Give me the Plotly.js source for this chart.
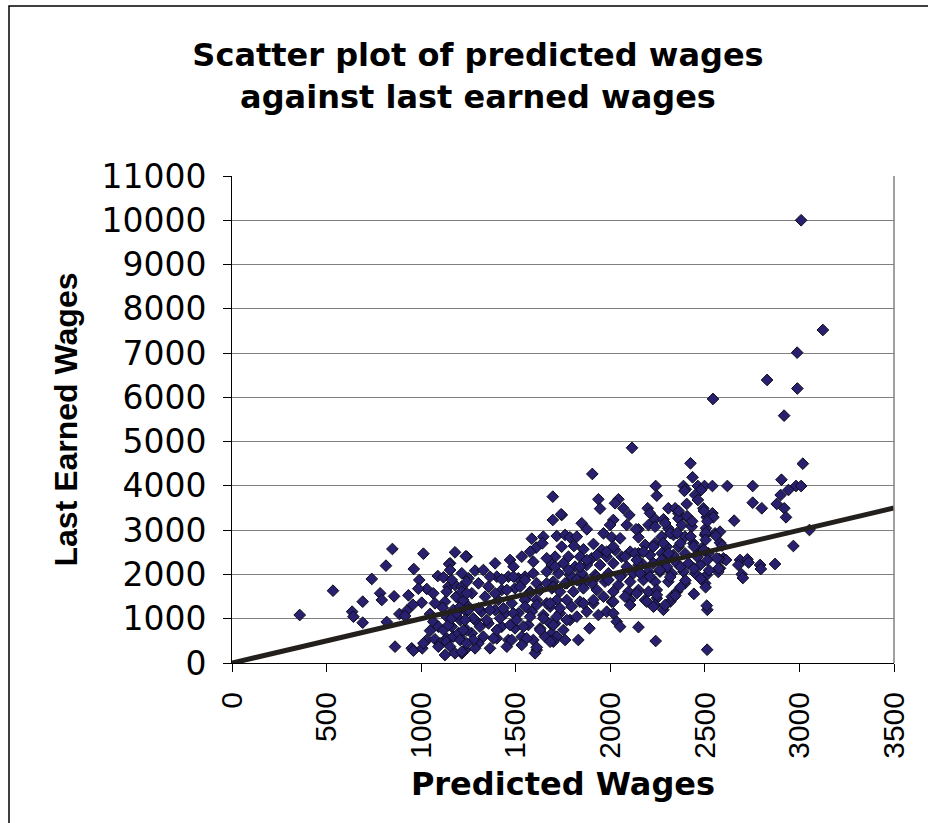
<!DOCTYPE html>
<html>
<head>
<meta charset="utf-8">
<script src="https://cdn.plot.ly/plotly-3.0.1.min.js"></script>
<style>
  html, body { margin: 0; padding: 0; background: #fff; }
  #chart { width: 928px; height: 823px; }
</style>
</head>
<body>
<div id="chart"></div>
<script>
// Predicted wages (x) and last earned wages (y)
const predictedWages = [
  3009,3124,2988,2989,2829,2919,2543,2115,2424,3018,2435,2905,1905,2240,2387,2399,2463,2498,2540,2480,
  2619,2753,2982,3009,2942,2246,2449,2463,2901,2753,2801,2880,2920,2929,2655,2580,2968,3053,2598,2612,
  2580,2686,2725,2677,2792,2871,2695,2513,2512,2281,2335,2317,2591,2575,2731,2796,2701,2571,
  2198,2210,2307,2343,2404,2360,2492,2540,2510,2545,2360,2413,2237,2281,2202,2237,2307,2378,2431,2506,
  2554,2580,2149,2149,2272,2334,2395,2501,2184,2237,2299,2360,2439,2484,2149,2210,2272,2334,2395,2457,
  2519,2167,2228,2290,2352,2413,2475,2572,2563,2140,2202,2263,2325,2387,2449,2510,2175,2237,2307,2395,
  2501,2149,2202,2246,2325,2352,2184,2246,2237,2290,2510,2149,2240,
  2392,2362,2406,2433,2495,2513,2290,2317,2353,2424,2504,2558,2281,2371,2442,2504,2495,2299,2460,2513,
  2299,2371,2442,2522,2317,2397,2477,2504,2371,2344,2442,
  1696,1937,1946,2043,2025,2069,2101,1743,1696,1849,1876,2016,1999,2087,2136,1717,1761,1787,1823,1743,
  1808,1911,1964,2008,2052,1858,1955,2025,2105,1708,1779,1840,1902,1981,2060,2131,1691,1752,1814,1876,
  1946,2016,2087,2149,1726,1787,1849,1920,1990,2060,2122,1699,1770,1840,1902,1972,2043,2105,1734,1805,
  1858,1929,2016,2096,1717,1770,1840,1911,1937,2008,2105,1682,1734,1787,2034,2052,1890,1708,1752,1691,
  1717,1761,1831,1699,
  1585,1646,1608,1641,1241,1391,1470,1488,1532,1593,1664,1285,1329,1400,1461,1514,1549,1611,1664,1250,
  1303,1356,1426,1496,1576,1629,1691,1268,1338,1408,1479,1549,1611,1664,1250,1320,1391,1444,1514,1585,
  1646,1285,1356,1426,1496,1567,1629,1682,1268,1329,1400,1461,1532,1593,1655,1303,1364,1453,1611,1602,
  1232,
  1740,1576,1153,1364,1426,1488,1549,1593,1664,1708,1779,1840,1876,1929,1981,2016,2078,2140,2175,2228,
  2272,2307,2158,2210,2263,2052,1990,1929,1876,1823,1761,1699,1576,1523,1453,1391,1206,1144,1126,1170,
  1241,1303,1364,1435,1488,1549,1611,1682,1734,1796,1858,1911,1964,2016,2078,2140,2193,2246,2228,1611,
  1215,1285,1532,1135,1206,1276,1382,1479,1558,1682,1162,1241,1311,1400,1470,1541,1629,1699,1135,1206,
  1276,1347,1417,1505,1576,1646,1717,1770,1823,1876,1981,2105,2016,
  848,1012,1179,1236,814,961,1148,1153,1215,1088,1118,990,783,792,857,933,1030,1064,985,1003,
  956,885,924,915,818,1047,1073,1114,1064,1091,1047,1118,1030,1006,950,959,862,1073,1100,1135,
  1153,1126,1179,1215,1170,1197,1144,1162,1188,1206,1185,1223,1135,1179,1215,1241,1215,1162,1241,1250,
  1232,1223,1206,1241,1091,1012,
  358,534,739,691,635,642,691
];
const lastEarnedWages = [
  10000,7522,7010,6200,6393,5587,5964,4860,4511,4502,4195,4140,4270,3998,3998,3924,3998,3998,3998,3908,
  3998,3998,3998,3998,3908,3780,3795,3682,3795,3621,3494,3592,3494,3291,3215,2718,2643,3004,2365,2327,
  2139,2327,2342,2214,2214,2236,2003,1202,300,1202,1490,1385,2652,2349,2270,2123,1920,2056,
  3494,3382,3494,3494,3592,3382,3494,3382,3291,3291,3268,3268,3246,3246,3117,3079,3043,3117,3079,3043,
  2929,2966,3020,2839,2853,2892,2853,2892,2666,2704,2627,2627,2704,2590,2476,2440,2476,2440,2476,2440,
  2476,2252,2252,2288,2252,2252,2214,2139,2365,2100,2063,2063,2025,2063,2025,1988,1875,1837,1837,1800,
  1800,1649,1611,1649,1498,1611,1423,1461,1310,1310,1295,810,497,
  3888,3431,3316,3201,3431,3201,3163,2934,2934,2858,2934,2874,2706,2706,2630,2781,2553,2399,2399,2325,
  2171,2171,2133,2094,1943,1866,1905,1712,1712,1523,1561,
  3757,3698,3486,3698,3608,3494,3343,3343,3230,3156,3020,3230,3117,3117,3020,2869,2892,2839,2853,2627,
  2643,2688,2929,2839,2816,2568,2553,2553,2514,2401,2401,2401,2365,2401,2401,2476,2214,2252,2175,2214,
  2214,2252,2175,2214,2025,1988,2025,1988,2025,1988,2025,1837,1800,1837,1800,1837,1762,1837,1611,1611,
  1687,1649,1611,1611,1423,1423,1385,1348,1084,1385,1423,1272,1123,971,933,820,783,895,745,670,
  595,520,520,481,
  2808,2853,2605,2704,2401,2252,2327,2175,2401,2288,2365,2085,2100,1950,1950,1913,1950,1800,1800,1913,
  1800,1724,1649,1687,1611,1649,1687,1574,1498,1423,1348,1423,1423,1348,1272,1159,1197,1123,1123,1159,
  1084,971,895,820,783,858,783,895,670,595,558,520,595,520,595,445,332,369,294,219,
  294,
  3359,2514,2252,1950,1890,1950,1875,2025,2063,2175,2100,2175,2327,2440,2514,2627,2401,2327,2514,2627,
  2327,2476,2026,1950,2100,1950,1875,1950,1875,1875,1800,1724,1574,1724,1649,1574,1423,1724,1385,1197,
  1159,1234,1197,1234,1123,1272,1310,1348,1234,1272,1348,1423,1498,1385,1498,1574,1385,1536,1272,354,
  219,332,407,558,595,520,558,520,558,481,820,745,820,745,858,820,745,858,1046,971,
  1010,971,1010,971,1046,1010,1046,971,1046,1159,1159,1310,1123,
  2575,2469,2500,2410,2198,2123,2236,2100,2026,1965,1936,1875,1574,1423,1506,1529,1672,1574,1679,1362,
  1317,1107,1182,1062,926,1107,1348,1250,933,820,730,745,520,332,332,278,369,535,445,481,
  369,181,219,256,595,670,858,1010,1123,1272,1498,1423,1611,1762,1724,1837,1611,1875,1574,1197,
  971,745,520,445,369,445,
  1084,1633,1898,1385,1159,1046,910
];
// 45-degree reference line (predicted = last earned)
const refLineX = [0, 3500];
const refLineY = [0, 3500];
const xTicks = [0, 500, 1000, 1500, 2000, 2500, 3000, 3500];
const xTickText = ['0', '500', '1000', '1500', '2000', '2500', '3000', '3500'];
const yTicks = [0, 1000, 2000, 3000, 4000, 5000, 6000, 7000, 8000, 9000, 10000, 11000];
const yTickText = ['0', '1000', '2000', '3000', '4000', '5000', '6000', '7000', '8000', '9000', '10000', '11000'];

const traces = [
  {
    type: 'scatter', mode: 'markers',
    x: predictedWages, y: lastEarnedWages,
    marker: { symbol: 'diamond', size: 9, color: '#28206e', line: { color: '#0c0c18', width: 1 } },
    hoverinfo: 'x+y', showlegend: false
  },
  {
    type: 'scatter', mode: 'lines',
    x: refLineX, y: refLineY,
    line: { color: '#231f1c', width: 5 },
    hoverinfo: 'skip', showlegend: false
  }
];

const L = 232, R = 894, T = 176, B = 663;
const pw = R - L, ph = B - T;

const layout = {
  width: 928, height: 823,
  margin: { l: L, r: 928 - R, t: T, b: 823 - B, pad: 0 },
  paper_bgcolor: '#ffffff', plot_bgcolor: '#ffffff',
  showlegend: false,
  title: {
    text: 'Scatter plot of predicted wages<br>against last earned wages',
    font: { family: 'DejaVu Sans', size: 32, weight: 'bold', color: '#000' },
    xref: 'container', x: 478 / 928, xanchor: 'center',
    yref: 'container', y: 1 - 66 / 823, yanchor: 'middle'
  },
  xaxis: {
    range: [0, 3500], tickmode: 'array', tickvals: xTicks, ticktext: xTickText,
    showgrid: false, zeroline: false,
    showline: true, linecolor: '#000', linewidth: 1,
    ticks: 'outside', ticklen: 8, tickcolor: '#000', tickwidth: 1,
    tickangle: -90,
    tickfont: { family: 'Liberation Sans, Arial', size: 30, color: '#000' },
    ticklabelstandoff: 8,
    title: {
      text: 'Predicted Wages',
      font: { family: 'DejaVu Sans', size: 32, weight: 'bold', color: '#000' },
      standoff: 14
    },
    fixedrange: true
  },
  yaxis: {
    range: [0, 11000], tickmode: 'array', tickvals: yTicks, ticktext: yTickText,
    showgrid: true, gridcolor: '#808080', gridwidth: 1,
    zeroline: false,
    showline: true, linecolor: '#000', linewidth: 1,
    ticks: 'outside', ticklen: 8, tickcolor: '#000', tickwidth: 1,
    tickfont: { family: 'DejaVu Sans', size: 33, color: '#000' },
    ticklabelstandoff: 10,
    title: { text: '' },
    fixedrange: true
  },
  annotations: [
    { text: 'Last Earned Wages', textangle: -90, showarrow: false,
      xref: 'paper', yref: 'paper', x: (65 - L) / pw, y: 0.5,
      xanchor: 'center', yanchor: 'middle',
      font: { family: 'Liberation Sans, Arial', size: 32, weight: 'bold', color: '#000' } }
  ],
  shapes: [
    { type: 'line', xref: 'paper', yref: 'paper', x0: 1, x1: 1, y0: 0, y1: 1,
      line: { color: '#808080', width: 1.5 } },
    { type: 'rect', xref: 'paper', yref: 'paper',
      x0: (9 - L) / pw, x1: 2, y0: -1, y1: (B - 6) / ph,
      line: { color: '#000', width: 1.5 }, fillcolor: 'rgba(0,0,0,0)', layer: 'below' }
  ]
};

Plotly.newPlot('chart', traces, layout, { staticPlot: true, displayModeBar: false });
</script>
</body>
</html>
